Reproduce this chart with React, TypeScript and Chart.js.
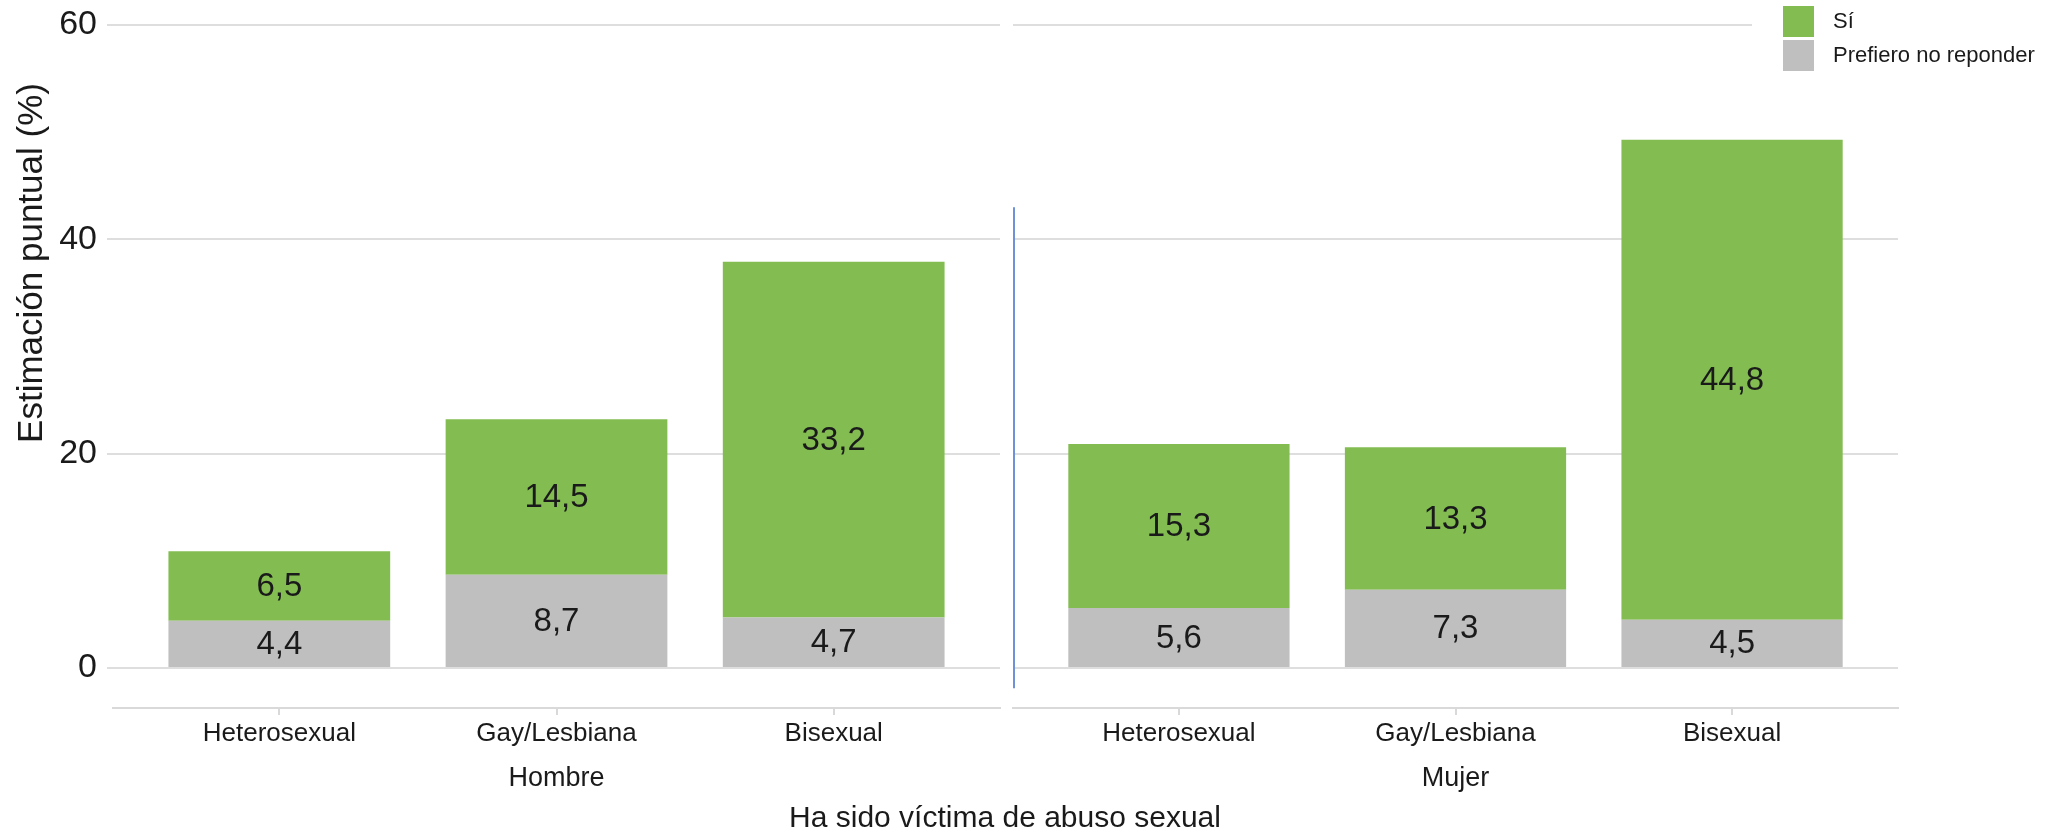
import React, { useEffect, useRef } from "react";
import { Chart, registerables } from "chart.js";

Chart.register(...registerables);

// ---------- data ----------
const categories = ["Heterosexual", "Gay/Lesbiana", "Bisexual"];
const panels = ["Hombre", "Mujer"];
const hombreNoResponde = [4.4, 8.7, 4.7];
const hombreSi = [6.5, 14.5, 33.2];
const mujerNoResponde = [5.6, 7.3, 4.5];
const mujerSi = [15.3, 13.3, 44.8];
const yTicks = [0, 20, 40, 60];
const seriesLabels = ["Sí", "Prefiero no reponder"];
const yTitle = "Estimación puntual (%)";
const xTitle = "Ha sido víctima de abuso sexual";

// ---------- styling / layout ----------
const W = 2071;
const H = 835;
const FONT = "'Liberation Sans', Arial, Helvetica, sans-serif";
const GREEN = "#83bd51";
const GRAY = "#bfbfbf";
const GRID = "#dedede";
const AXIS = "#d9d9d9";
const TEXT = "#1a1a1a";
const Y_MIN = -3.735;
const Y_MAX = 62.33;
const PLOT_BOTTOM = 708;
const LEFT_PANEL = { left: 113, right: 1000 };
const RIGHT_PANEL = { left: 1013, right: 1898 };

const fmt = (v: number) => v.toFixed(1).replace(".", ",");

const barLabels = {
  id: "barLabels",
  afterDatasetsDraw(chart: any) {
    const ctx = chart.ctx;
    ctx.save();
    ctx.font = `33px ${FONT}`;
    ctx.fillStyle = TEXT;
    ctx.textAlign = "center";
    ctx.textBaseline = "middle";
    chart.data.datasets.forEach((ds: any, di: number) => {
      const meta = chart.getDatasetMeta(di);
      meta.data.forEach((el: any, i: number) => {
        const { x, y, base } = el.getProps(["x", "y", "base"], true);
        ctx.fillText(fmt(ds.data[i].y), x, (y + base) / 2 + 1);
      });
    });
    ctx.restore();
  },
};

const yTitlePlugin = {
  id: "yTitlePlugin",
  afterDraw(chart: any) {
    const ctx = chart.ctx;
    ctx.save();
    ctx.translate(32, 263);
    ctx.rotate(-Math.PI / 2);
    ctx.font = `35px ${FONT}`;
    ctx.fillStyle = TEXT;
    ctx.textAlign = "center";
    ctx.textBaseline = "middle";
    ctx.fillText(yTitle, 0, 0);
    ctx.restore();
  },
};

const rightDecor = {
  id: "rightDecor",
  afterDraw(chart: any) {
    const ctx = chart.ctx;
    const ys = chart.scales.y;
    ctx.save();
    // thin blue separator line
    ctx.strokeStyle = "#6e91d8";
    ctx.lineWidth = 2;
    ctx.beginPath();
    const lx = chart.chartArea.left + 1;
    ctx.moveTo(lx, ys.getPixelForValue(43));
    ctx.lineTo(lx, ys.getPixelForValue(-1.9));
    ctx.stroke();

    // legend
    ctx.fillStyle = "#ffffff";
    ctx.fillRect(1752, 0, W - 1752, 80);
    const keys: [string, string][] = [
      [GREEN, seriesLabels[0]],
      [GRAY, seriesLabels[1]],
    ];
    keys.forEach(([c, t], i) => {
      const y0 = 6 + i * 34;
      ctx.fillStyle = c;
      ctx.fillRect(1783, y0, 31, 31);
      ctx.fillStyle = TEXT;
      ctx.font = `22px ${FONT}`;
      ctx.textAlign = "left";
      ctx.textBaseline = "middle";
      ctx.fillText(t, 1833, y0 + 16);
    });

    // overall x title
    ctx.font = `30px ${FONT}`;
    ctx.fillStyle = TEXT;
    ctx.textAlign = "center";
    ctx.textBaseline = "middle";
    ctx.fillText(xTitle, 1005, 819);
    ctx.restore();
  },
};

function makeConfig(panelIdx: number, noResp: number[], si: number[], isLeft: boolean): any {
  const toPts = (arr: number[]) => arr.map((v, i) => ({ x: i + 1, y: v }));
  const area = isLeft ? LEFT_PANEL : RIGHT_PANEL;
  return {
    type: "bar",
    data: {
      datasets: [
        { label: seriesLabels[1], data: toPts(noResp), backgroundColor: GRAY, stack: "s" },
        { label: seriesLabels[0], data: toPts(si), backgroundColor: GREEN, stack: "s" },
      ],
    },
    options: {
      animation: false,
      responsive: false,
      events: [],
      layout: {
        padding: {
          left: isLeft ? 0 : area.left,
          right: W - area.right,
          top: 0,
          bottom: 0,
        },
      },
      datasets: { bar: { categoryPercentage: 1, barPercentage: 0.8 } },
      plugins: {
        legend: { display: false },
        tooltip: { enabled: false },
        title: { display: false },
      },
      scales: {
        x: {
          type: "linear",
          stacked: true,
          min: 0.4,
          max: 3.6,
          offset: false,
          afterBuildTicks: (s: any) => {
            s.ticks = categories.map((_, i) => ({ value: i + 1 }));
          },
          afterFit: (s: any) => {
            s.height = H - PLOT_BOTTOM;
            s.paddingLeft = 0;
            s.paddingRight = 0;
          },
          ticks: {
            callback: (v: any) => categories[Math.round(Number(v)) - 1] ?? "",
            font: { family: FONT, size: 26 },
            color: TEXT,
            padding: 3,
            maxRotation: 0,
            autoSkip: false,
          },
          grid: {
            offset: false,
            drawOnChartArea: false,
            drawTicks: true,
            tickLength: 7,
            color: AXIS,
            lineWidth: 2,
          },
          border: { display: true, color: AXIS, width: 2 },
          title: {
            display: true,
            text: panels[panelIdx],
            font: { family: FONT, size: 27 },
            color: TEXT,
            padding: { top: 0, bottom: 40 },
          },
        },
        y: {
          type: "linear",
          stacked: true,
          min: Y_MIN,
          max: Y_MAX,
          afterBuildTicks: (s: any) => {
            s.ticks = yTicks.map((v) => ({ value: v }));
          },
          afterFit: (s: any) => {
            s.width = isLeft ? area.left : 0;
            s.paddingTop = 0;
            s.paddingBottom = 0;
          },
          ticks: {
            display: isLeft,
            font: { family: FONT, size: 34 },
            color: TEXT,
            padding: 10,
          },
          grid: { color: GRID, lineWidth: 2, drawTicks: isLeft, tickLength: 6 },
          border: { display: false },
        },
      },
    },
    plugins: isLeft ? [barLabels, yTitlePlugin] : [barLabels, rightDecor],
  };
}

export default function App() {
  const leftRef = useRef<HTMLCanvasElement | null>(null);
  const rightRef = useRef<HTMLCanvasElement | null>(null);

  useEffect(() => {
    document.body.style.margin = "0";
    document.body.style.overflow = "hidden";
    const left = new Chart(leftRef.current as HTMLCanvasElement, makeConfig(0, hombreNoResponde, hombreSi, true));
    const right = new Chart(rightRef.current as HTMLCanvasElement, makeConfig(1, mujerNoResponde, mujerSi, false));
    return () => {
      left.destroy();
      right.destroy();
    };
  }, []);

  const canvasStyle: React.CSSProperties = {
    position: "absolute",
    left: 0,
    top: 0,
    width: W,
    height: H,
  };

  return (
    <div style={{ position: "relative", width: W, height: H, background: "#ffffff", overflow: "hidden" }}>
      <canvas ref={leftRef} width={W} height={H} style={canvasStyle} />
      <canvas ref={rightRef} width={W} height={H} style={canvasStyle} />
    </div>
  );
}
